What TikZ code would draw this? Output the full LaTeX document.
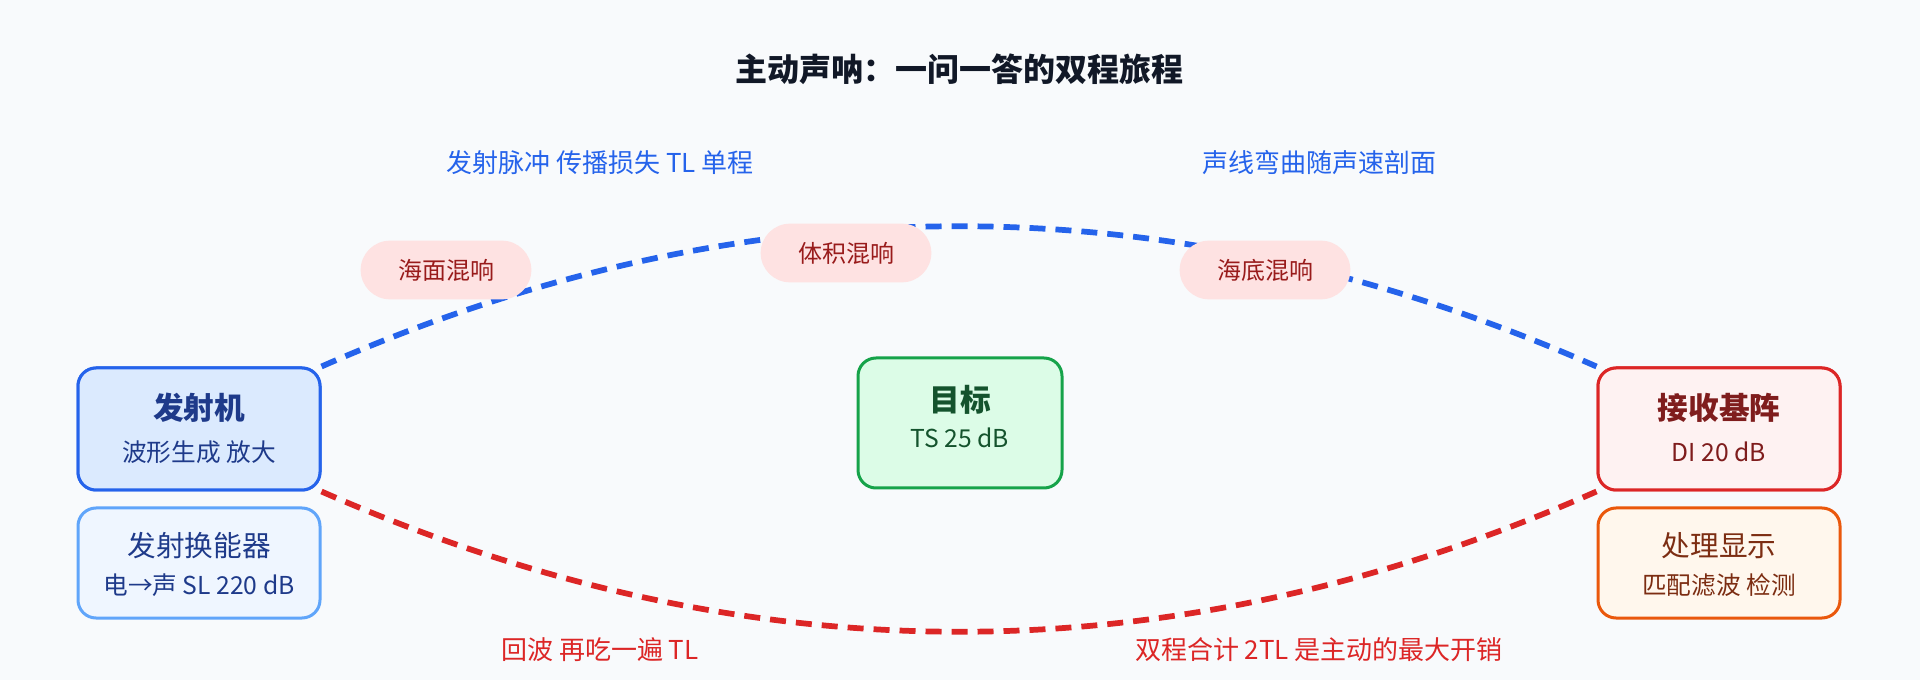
\documentclass[tikz,border=0pt]{standalone}
\usepackage{fontspec}
\usetikzlibrary{calc}
\setmainfont{Noto Sans CJK SC}
\definecolor{bg}{HTML}{F8FAFC}
\definecolor{titlec}{HTML}{111827}
\definecolor{blueline}{HTML}{2563EB}
\definecolor{redline}{HTML}{DC2626}
\definecolor{txfill}{HTML}{DBEAFE}
\definecolor{txtext}{HTML}{1E3A8A}
\definecolor{ttfill}{HTML}{EFF6FF}
\definecolor{ttdraw}{HTML}{60A5FA}
\definecolor{tgfill}{HTML}{DCFCE7}
\definecolor{tgdraw}{HTML}{16A34A}
\definecolor{tgtext}{HTML}{14532D}
\definecolor{rxfill}{HTML}{FEF2F2}
\definecolor{rxtext}{HTML}{7F1D1D}
\definecolor{prfill}{HTML}{FFF7ED}
\definecolor{prdraw}{HTML}{EA580C}
\definecolor{prtext}{HTML}{7C2D12}
\definecolor{pillfill}{HTML}{FEE2E2}
\definecolor{pilltext}{HTML}{991B1B}
\tikzset{
  box/.style={draw, line width=2.25pt, rounded corners=13.5pt, minimum width=181.5pt, inner sep=0pt},
  bigbox/.style={box, minimum height=91.5pt},
  smallbox/.style={box, minimum height=82.5pt},
  pill/.style={fill=pillfill, rounded corners=22pt, minimum width=128pt, minimum height=44pt, inner sep=0pt, text=pilltext, font=\fontsize{18pt}{20pt}\selectfont},
  boxtitle/.style={inner sep=0pt, font=\fontsize{23pt}{25pt}\selectfont\bfseries},
  boxtitlelight/.style={inner sep=0pt, font=\fontsize{21.5pt}{23pt}\selectfont},
  boxsub/.style={inner sep=0pt, font=\fontsize{18.5pt}{20pt}\selectfont},
  note/.style={inner sep=0pt, font=\fontsize{19.5pt}{21pt}\selectfont},
  path/.style={line width=4.3pt, dash pattern=on 12pt off 7.5pt},
}
\begin{document}
\begin{tikzpicture}[x=0.75pt, y=-0.75pt]
\fill[bg] (0,0) rectangle (1920,680);
\useasboundingbox (0,0) rectangle (1920,680);

% boxes (positions)
\node[bigbox, draw=blueline, fill=txfill] (tx) at (199,429) {};
\node[smallbox, draw=ttdraw, fill=ttfill] (tt) at (199,563) {};
\node[box, minimum width=153pt, minimum height=97.5pt, draw=tgdraw, fill=tgfill] (tg) at (960,423) {};
\node[bigbox, draw=redline, fill=rxfill] (rx) at (1719,429) {};
\node[smallbox, draw=prdraw, fill=prfill] (pr) at (1719,563) {};

% quadratic control points
\coordinate (cb) at (960,86);
\coordinate (cr) at (960,772);

% curves (quadratic Beziers written as cubic)
\draw[path, draw=blueline] (tx.north east) .. controls ($(tx.north east)!0.6667!(cb)$) and ($(rx.north west)!0.6667!(cb)$) .. (rx.north west);
\draw[path, draw=redline] (tx.south east) .. controls ($(tx.south east)!0.6667!(cr)$) and ($(rx.south west)!0.6667!(cr)$) .. (rx.south west);

% redraw boxes on top of curve ends
\node[bigbox, draw=blueline, fill=txfill] (tx2) at (tx) {};
\node[bigbox, draw=redline, fill=rxfill] (rx2) at (rx) {};

% box texts
\node[boxtitle, text=txtext] (txa) at (199,408) {发射机};
\node[boxsub, text=txtext] (txb) at (199,452) {波形生成 放大};
\node[boxtitlelight, text=txtext] (tta) at (199,546) {发射换能器};
\node[boxsub, text=txtext] (ttb) at (199,585) {电→声 SL 220 dB};
\node[boxtitle, text=tgtext] (tga) at (960,400) {目标};
\node[boxsub, text=tgtext] (tgb) at (960,438) {TS 25 dB};
\node[boxtitle, text=rxtext] (rxa) at (1719,408) {接收基阵};
\node[boxsub, text=rxtext] (rxb) at (1719,452) {DI 20 dB};
\node[boxtitlelight, text=prtext] (pra) at (1719,546) {处理显示};
\node[boxsub, text=prtext] (prb) at (1719,585) {匹配滤波 检测};

% reverberation pills
\node[pill] (p1) at (446,270) {海面混响};
\node[pill] (p2) at (846,253) {体积混响};
\node[pill] (p3) at (1265,270) {海底混响};

% title and notes
\node[inner sep=0pt, text=titlec, font=\fontsize{24pt}{26pt}\selectfont\bfseries] (title) at (959,69) {主动声呐：一问一答的双程旅程};
\node[note, text=blueline] (n1) at (600,163) {发射脉冲 传播损失 TL 单程};
\node[note, text=blueline] (n2) at (1319,163) {声线弯曲随声速剖面};
\node[note, text=redline] (n3) at (600,650) {回波 再吃一遍 TL};
\node[note, text=redline] (n4) at (1319,650) {双程合计 2TL 是主动的最大开销};
\end{tikzpicture}
\end{document}
